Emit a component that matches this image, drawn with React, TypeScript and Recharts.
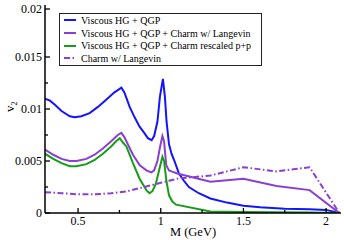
import { LineChart, Line, XAxis, YAxis, Label } from 'recharts';

// invariant mass grids (GeV) and v2 values for each curve
const massHG = [0.3, 0.33, 0.36, 0.4, 0.45, 0.48, 0.52, 0.57, 0.62, 0.67, 0.72, 0.762, 0.78, 0.812, 0.842, 0.872, 0.9, 0.922, 0.945, 0.96, 0.98, 0.995, 1.013, 1.025, 1.035, 1.05, 1.065, 1.083, 1.11, 1.14, 1.17, 1.23, 1.3, 1.4, 1.5, 1.6, 1.75, 1.9, 2.0, 2.08];
const v2HG = [0.011, 0.0108, 0.0104, 0.0098, 0.0093, 0.0092, 0.0093, 0.0096, 0.0102, 0.0109, 0.0116, 0.01205, 0.0116, 0.0102, 0.0092, 0.0083, 0.0077, 0.0072, 0.007, 0.0074, 0.0088, 0.0112, 0.0129, 0.0112, 0.0088, 0.0066, 0.0057, 0.005, 0.0038, 0.0031, 0.0025, 0.0019, 0.0014, 0.001, 0.0007, 0.00055, 0.0004, 0.00035, 0.0003, 0.0];

const massCharm = [0.3, 0.35, 0.4, 0.45, 0.49, 0.55, 0.6, 0.65, 0.7, 0.74, 0.762, 0.78, 0.792, 0.832, 0.872, 0.913, 0.943, 0.96, 0.98, 0.995, 1.01, 1.02, 1.033, 1.05, 1.065, 1.1, 1.3, 1.5, 1.7, 1.9, 2.08];
const v2Charm = [0.0061, 0.0056, 0.0052, 0.005, 0.005, 0.0052, 0.0056, 0.0062, 0.0069, 0.0075, 0.0077, 0.0073, 0.0069, 0.0056, 0.0046, 0.0041, 0.0039, 0.0041, 0.005, 0.0063, 0.0074, 0.0069, 0.0046, 0.0041, 0.004, 0.0038, 0.003, 0.0033, 0.0026, 0.0022, 0.0];

const massRescaled = [0.3, 0.35, 0.4, 0.45, 0.49, 0.55, 0.6, 0.65, 0.7, 0.73, 0.752, 0.77, 0.792, 0.832, 0.872, 0.913, 0.932, 0.95, 0.97, 0.99, 1.01, 1.02, 1.035, 1.05, 1.07, 1.093, 1.3, 1.5, 1.7, 1.9, 2.08];
const v2Rescaled = [0.0057, 0.0052, 0.0048, 0.0045, 0.0045, 0.0047, 0.0051, 0.0057, 0.0064, 0.0069, 0.0072, 0.0068, 0.0064, 0.0048, 0.0033, 0.0022, 0.0019, 0.0021, 0.0028, 0.0041, 0.0054, 0.005, 0.003, 0.0017, 0.0011, 0.0008, 0.00015, 0.0001, 0.00008, 0.00005, 0.0];

const massLangevin = [0.3, 0.4, 0.5, 0.6, 0.7, 0.75, 0.8, 0.85, 0.9, 0.95, 1.0, 1.05, 1.1, 1.3, 1.5, 1.7, 1.9, 2.08];
const v2Langevin = [0.002, 0.0019, 0.0018, 0.0018, 0.0019, 0.002, 0.0021, 0.0023, 0.0025, 0.0027, 0.0029, 0.0031, 0.0033, 0.0036, 0.0044, 0.004, 0.0044, 0.0];

const xTicks = [0.5, 0.75, 1, 1.25, 1.5, 1.75, 2];
const xMajor = [0.5, 1, 1.5, 2];
const yTicks = [0, 0.0025, 0.005, 0.0075, 0.01, 0.0125, 0.015, 0.0175, 0.02];
const yMajor = [0, 0.005, 0.01, 0.015, 0.02];

const toRows = (m: number[], v: number[]) => m.map((x, i) => ({ m: x, v: v[i] }));

const series = [
  { name: 'Viscous HG + QGP', data: toRows(massHG, v2HG), color: '#1414ff', dash: undefined },
  { name: 'Viscous HG + QGP + Charm w/ Langevin', data: toRows(massCharm, v2Charm), color: '#8a3fd0', dash: undefined },
  { name: 'Viscous HG + QGP + Charm rescaled p+p', data: toRows(massRescaled, v2Rescaled), color: '#179c17', dash: undefined },
  { name: 'Charm w/ Langevin', data: toRows(massLangevin, v2Langevin), color: '#8a3fd0', dash: '6 2.5 1.5 2.5' },
];

const FONT = "'Liberation Serif', 'Times New Roman', serif";

const XTick = (props: any) => {
  const { x, y, payload, top } = props;
  const major = xMajor.includes(payload.value);
  const len = major ? 5 : 3;
  const dir = top ? 1 : -1;
  return (
    <g>
      <line x1={x} x2={x} y1={y} y2={y + dir * len} stroke="#000" strokeWidth={1.3} />
      {!top && major && (
        <text x={x} y={y + 12} textAnchor="middle" fontFamily={FONT} fontSize={12} fill="#000">
          {String(payload.value)}
        </text>
      )}
    </g>
  );
};

const YTick = (props: any) => {
  const { x, y, payload, right } = props;
  const major = yMajor.some((t) => Math.abs(t - payload.value) < 1e-9);
  const len = major ? 5 : 3;
  const dir = right ? -1 : 1;
  return (
    <g>
      <line x1={x} x2={x + dir * len} y1={y} y2={y} stroke="#000" strokeWidth={1.3} />
      {!right && major && (
        <text x={x - 3} y={y + 4} textAnchor="end" fontFamily={FONT} fontSize={12} fill="#000">
          {String(payload.value)}
        </text>
      )}
    </g>
  );
};

const LegendBox = () => (
  <div
    style={{
      position: 'absolute',
      left: 59,
      top: 13,
      width: 201,
      border: '1px solid #222',
      background: '#fff',
      fontFamily: FONT,
      fontSize: 10,
      color: '#000',
    }}
  >
    {series.map((s) => (
      <div key={s.name} style={{ display: 'flex', alignItems: 'center', height: 12.7, whiteSpace: 'nowrap' }}>
        <svg width={12} height={6} style={{ marginLeft: 4, marginRight: 5 }}>
          <line x1={0} x2={12} y1={3} y2={3} stroke={s.color} strokeWidth={2} strokeDasharray={s.dash} />
        </svg>
        <span>{s.name}</span>
      </div>
    ))}
  </div>
);

const App = () => {
  return (
    <div style={{ position: 'absolute', left: 0, top: 0, width: 344, height: 240, background: '#fff' }}>
      <LineChart width={344} height={240} margin={{ top: 5, right: 3, bottom: 0, left: 0 }}>
        <XAxis
          xAxisId="b"
          dataKey="m"
          type="number"
          domain={[0.3, 2.09]}
          allowDataOverflow
          ticks={xTicks}
          tickLine={false}
          tickSize={0}
          tickMargin={0}
          height={27}
          axisLine={{ stroke: '#000', strokeWidth: 1.5 }}
          tick={<XTick />}
        >
          <Label
            content={() => (
              <text x={193} y={236} textAnchor="middle" fontFamily={FONT} fontSize={12.5} fill="#000">
                M (GeV)
              </text>
            )}
          />
        </XAxis>
        <XAxis
          xAxisId="t"
          orientation="top"
          type="number"
          domain={[0.3, 2.09]}
          allowDataOverflow
          ticks={xTicks}
          tickLine={false}
          tickSize={0}
          tickMargin={0}
          height={0}
          axisLine={{ stroke: '#000', strokeWidth: 1.5 }}
          tick={<XTick top />}
        />
        <YAxis
          yAxisId="l"
          type="number"
          domain={[0, 0.02]}
          allowDataOverflow
          ticks={yTicks}
          tickLine={false}
          tickSize={0}
          tickMargin={0}
          width={45}
          axisLine={{ stroke: '#000', strokeWidth: 1.5 }}
          tick={<YTick />}
        >
          <Label
            content={() => (
              <text transform="rotate(-90, 14, 112)" x={14} y={112} fontFamily={FONT} fontSize={13} fill="#000">
                v<tspan fontSize={8} dy={3}>2</tspan>
              </text>
            )}
          />
        </YAxis>
        <YAxis
          yAxisId="r"
          orientation="right"
          type="number"
          domain={[0, 0.02]}
          allowDataOverflow
          ticks={yTicks}
          tickLine={false}
          tickSize={0}
          tickMargin={0}
          width={0}
          axisLine={{ stroke: '#000', strokeWidth: 1.5 }}
          tick={<YTick right />}
        />
        {series.map((s) => (
          <Line
            key={s.name}
            xAxisId="b"
            yAxisId="l"
            data={s.data}
            dataKey="v"
            type="linear"
            stroke={s.color}
            strokeWidth={2}
            strokeDasharray={s.dash}
            dot={false}
            isAnimationActive={false}
          />
        ))}
      </LineChart>
      <LegendBox />
    </div>
  );
};

export default App;
